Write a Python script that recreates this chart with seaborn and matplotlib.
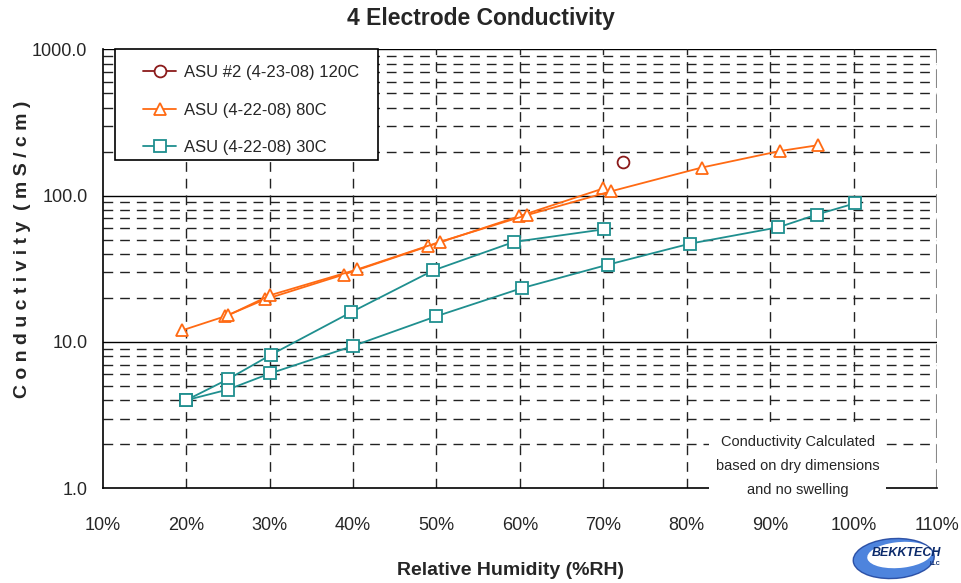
import numpy as np
import pandas as pd
import matplotlib
matplotlib.use("Agg")
import matplotlib.pyplot as plt
from matplotlib.lines import Line2D
from matplotlib.patches import Ellipse, Rectangle
from matplotlib.ticker import FixedLocator, NullFormatter, FuncFormatter
import seaborn as sns

# --- data -----------------------------------------------------------------
series_names = ["ASU #2 (4-23-08) 120C", "ASU (4-22-08) 80C", "ASU (4-22-08) 30C"]

# 120C: single measurement
rh_120 = [72.4]
cond_120 = [170.0]

# 80C: two sweeps
rh_80_a = [19.5, 24.7, 29.5, 38.9, 49.0, 59.9, 70.0]
cond_80_a = [12.0, 15.0, 19.6, 28.9, 45.1, 72.3, 112.0]
rh_80_b = [25.0, 30.1, 40.5, 50.4, 60.8, 70.9, 81.8, 91.2, 95.7]
cond_80_b = [15.2, 20.9, 31.3, 48.3, 73.5, 107.0, 155.6, 202.0, 221.0]

# 30C: two sweeps
rh_30_a = [20.0, 25.0, 30.2, 39.8, 49.6, 59.3, 70.1]
cond_30_a = [4.0, 5.56, 8.2, 16.0, 30.8, 48.3, 58.9]
rh_30_b = [20.0, 25.0, 30.1, 40.0, 50.0, 60.2, 70.6, 80.4, 91.0, 95.6, 100.2]
cond_30_b = [4.0, 4.73, 6.11, 9.39, 15.0, 23.3, 33.8, 47.0, 60.8, 74.3, 88.7]

x_ticks = [10, 20, 30, 40, 50, 60, 70, 80, 90, 100, 110]
y_ticks = [1.0, 10.0, 100.0, 1000.0]

colors = {series_names[0]: "#8B1A1A",
          series_names[1]: "#FF6A13",
          series_names[2]: "#1F8F8F"}
markers = {series_names[0]: "o", series_names[1]: "^", series_names[2]: "s"}

frames = []
for name, sweep, xs, ys in [
    (series_names[0], "a", rh_120, cond_120),
    (series_names[1], "a", rh_80_a, cond_80_a),
    (series_names[1], "b", rh_80_b, cond_80_b),
    (series_names[2], "a", rh_30_a, cond_30_a),
    (series_names[2], "b", rh_30_b, cond_30_b),
]:
    frames.append(pd.DataFrame({"rh": xs, "cond": ys,
                                "series": name, "sweep": name + sweep}))
df = pd.concat(frames, ignore_index=True)

# --- style ----------------------------------------------------------------
sns.set_style("white")
plt.rcParams["font.family"] = ["Liberation Sans", "DejaVu Sans"]

fig = plt.figure(figsize=(9.61, 5.83), dpi=100)
ax = fig.add_axes([0.1069, 0.1624, 0.9750 - 0.1069, 0.9154 - 0.1624])

ax.set_yscale("log")
ax.set_xlim(10, 110)
ax.set_ylim(1, 1000)

# grid lines
for v in [2, 3, 4, 5, 6, 7, 8, 9, 20, 30, 40, 50, 60, 70, 80, 90,
          200, 300, 400, 500, 600, 700, 800, 900]:
    ax.axhline(v, color="#222222", lw=1.0, ls=(0, (7, 5)), zorder=1)
for v in [10, 100, 1000]:
    ax.axhline(v, color="black", lw=1.0, zorder=1)
for v in x_ticks[1:-1]:
    ax.axvline(v, color="#222222", lw=1.0, ls=(0, (7, 5)), zorder=1)
ax.axvline(110, color="#888888", lw=1.5, ls=(0, (9, 3)), zorder=1)

sns.lineplot(data=df, x="rh", y="cond", hue="series", style="series",
             units="sweep", estimator=None, sort=False,
             palette=colors, markers=markers, dashes=False,
             markersize=8.5, markerfacecolor="white", markeredgewidth=1.3,
             linewidth=1.3, legend=False, ax=ax, zorder=3)
for line in ax.get_lines():
    c = line.get_color()
    if line.get_marker() not in (None, "None", ""):
        line.set_markeredgecolor(c)
        line.set_markerfacecolor("white")
ax.set_xlabel("")
ax.set_ylabel("")

# spines and ticks
for s in ["top", "right"]:
    ax.spines[s].set_visible(False)
for s in ["left", "bottom"]:
    ax.spines[s].set_color("black")
    ax.spines[s].set_linewidth(1.2)

ax.xaxis.set_major_locator(FixedLocator(x_ticks))
ax.xaxis.set_minor_locator(FixedLocator([x for x in np.arange(10, 110.1, 2) if x % 10]))
ax.xaxis.set_major_formatter(FuncFormatter(lambda v, p: f"{v:.0f}%"))
ax.yaxis.set_major_locator(FixedLocator(y_ticks))
minor_y = [m * 10 ** e for e in range(0, 3) for m in range(2, 10)]
ax.yaxis.set_minor_locator(FixedLocator(minor_y))
ax.yaxis.set_minor_formatter(NullFormatter())
ax.yaxis.set_major_formatter(FuncFormatter(lambda v, p: f"{v:.1f}"))

ax.tick_params(axis="x", which="major", direction="inout", length=12, width=1,
               pad=15, labelsize=13)
ax.tick_params(axis="x", which="minor", direction="in", length=5, width=1)
ax.tick_params(axis="y", which="major", direction="inout", length=12, width=1,
               pad=5, labelsize=13)
ax.tick_params(axis="y", which="minor", direction="in", length=7, width=1)

# titles
fig.text(0.5, 0.968, "4 Electrode Conductivity", ha="center", va="center",
         fontsize=16.5, fontweight="bold")
fig.text(0.531, 0.021, "Relative Humidity (%RH)", ha="center", va="center",
         fontsize=14, fontweight="bold")
fig.text(0.023, 0.573, "C o n d u c t i v i t y  ( m S / c m )", ha="center",
         va="center", rotation=90, fontsize=14, fontweight="bold")

# legend: frame drawn as a separate box
ax.add_patch(Rectangle((115 / 961, 1 - 160 / 583), 263 / 961, 111 / 583,
                       transform=fig.transFigure, facecolor="white",
                       edgecolor="black", lw=1.2, zorder=4.5, clip_on=False))
handles = [Line2D([], [], color=colors[n], marker=markers[n], markersize=8.5,
                  markerfacecolor="white", markeredgecolor=colors[n],
                  markeredgewidth=1.3, lw=1.3) for n in series_names]
leg = ax.legend(handles, series_names, loc="upper left",
                bbox_to_anchor=(143 / 961, 1 - 65 / 583),
                bbox_transform=fig.transFigure, fontsize=12, frameon=False,
                handlelength=2.0, labelspacing=1.35, borderpad=0,
                borderaxespad=0, handletextpad=0.45)
leg.set_zorder(5)

# note
ax.text(0.833, 0.051,
        "Conductivity Calculated\nbased on dry dimensions\nand no swelling",
        transform=ax.transAxes, ha="center", va="center", fontsize=10.5,
        linespacing=1.9, zorder=4,
        bbox=dict(facecolor="white", edgecolor="none", pad=5))

# company mark
fig.patches.append(Ellipse((0.930, 0.042), 0.085, 0.068, angle=12,
                           transform=fig.transFigure, facecolor="#2F6FD8",
                           edgecolor="#1A3F9A", lw=1, alpha=0.85, zorder=1))
fig.patches.append(Ellipse((0.936, 0.048), 0.068, 0.044, angle=12,
                           transform=fig.transFigure, facecolor="white",
                           edgecolor="none", zorder=2))
fig.text(0.943, 0.052, "BEKKTECH", ha="center", va="center", fontsize=9,
         fontweight="bold", style="italic", color="#0B2A6B", zorder=3)
fig.text(0.973, 0.034, "LLC", ha="center", va="center", fontsize=4,
         fontweight="bold", color="#0B2A6B", zorder=3)

fig.savefig("out.png", dpi=100)
